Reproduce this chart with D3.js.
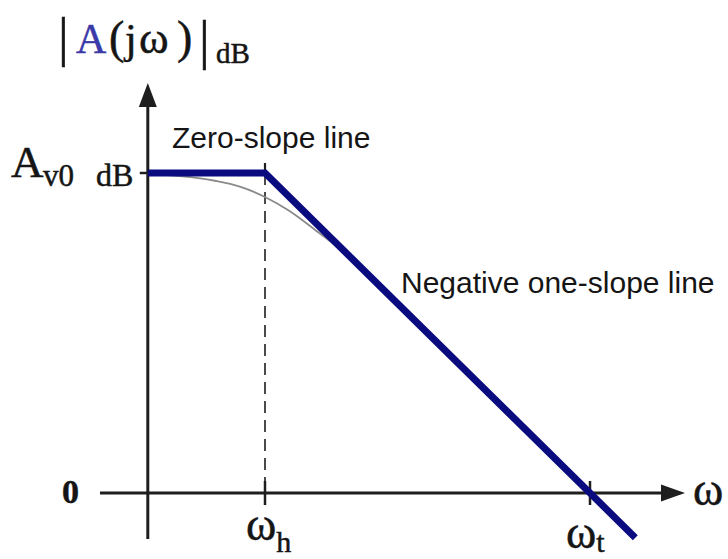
<!DOCTYPE html>
<html><head><meta charset="utf-8">
<script src="https://cdn.jsdelivr.net/npm/d3@7"></script>
<style>
  body { margin: 0; background: #fff; }
  svg { display: block; }
  .serif { font-family: "Liberation Serif", "Times New Roman", serif; fill: #151515; stroke: #151515; stroke-width: 0.5; }
  .sans { font-family: "Liberation Sans", Arial, sans-serif; fill: #151515; }
</style>
</head><body>
<script>
// Bode magnitude of a single-pole amplifier: gain in dB against ω on a log axis.
const midbandGainDb = 40;        // Av0 (dB)
const cornerFreq = 1;            // ωh
const unityFreq = 100;           // ωt
const startFreq = 0.19;          // left edge of the plot (vertical axis)

// Straight-line approximation [ω, dB]
const asymptoteW  = [startFreq, cornerFreq, unityFreq, 190];
const asymptoteDb = [40, 40, 0, -5.6];

// Exact response [ω, dB]
const actualW  = [0.19, 0.3, 0.5, 0.7, 1, 1.4, 2, 2.8, 4, 6];
const actualDb = [39.85, 39.6, 39.0, 38.3, 37.0, 35.3, 33.0, 30.7, 27.7, 24.3];

const freqTicks = [cornerFreq, unityFreq];

const W = 728, H = 559;
const svg = d3.select("body").append("svg").attr("width", W).attr("height", H);

const x = d3.scaleLog().domain([cornerFreq, unityFreq]).range([265, 590]);
const y = d3.scaleLinear().domain([0, midbandGainDb]).range([493, 173]);

const axisX = x(startFreq);
const axisY = y(0);
const ink = "#1e1e1e";

// ---- axes with arrowheads ----
svg.append("line").attr("x1", 100).attr("x2", 670).attr("y1", axisY).attr("y2", axisY)
  .attr("stroke", ink).attr("stroke-width", 3);
svg.append("path")
  .attr("d", `M685,${axisY} L661,${axisY - 8.5} L661,${axisY + 8.5} Z`).attr("fill", ink);

svg.append("line").attr("x1", axisX).attr("x2", axisX).attr("y1", 539).attr("y2", 98)
  .attr("stroke", ink).attr("stroke-width", 3);
svg.append("path")
  .attr("d", `M${axisX},83 L${axisX - 9},107 L${axisX + 9},107 Z`).attr("fill", ink);

// tick for Av0 on the vertical axis
svg.append("line").attr("x1", axisX - 8).attr("x2", axisX).attr("y1", y(midbandGainDb)).attr("y2", y(midbandGainDb))
  .attr("stroke", ink).attr("stroke-width", 2.5);

// ticks on the frequency axis
svg.selectAll("line.ftick").data(freqTicks).join("line").attr("class", "ftick")
  .attr("x1", d => x(d)).attr("x2", d => x(d))
  .attr("y1", axisY - 12).attr("y2", axisY + 12)
  .attr("stroke", ink).attr("stroke-width", 2.5);

// dashed guide at ωh
svg.append("line").attr("x1", x(cornerFreq)).attr("x2", x(cornerFreq))
  .attr("y1", y(midbandGainDb)).attr("y2", axisY - 12)
  .attr("stroke", ink).attr("stroke-width", 1.6).attr("stroke-dasharray", "12,7");
svg.append("line").attr("x1", x(cornerFreq)).attr("x2", x(cornerFreq))
  .attr("y1", y(midbandGainDb) - 10).attr("y2", y(midbandGainDb))
  .attr("stroke", ink).attr("stroke-width", 2.2);

// ---- curves ----
const actual = d3.zip(actualW, actualDb);
const asym = d3.zip(asymptoteW, asymptoteDb);

svg.append("path").datum(actual)
  .attr("d", d3.line().x(d => x(d[0])).y(d => y(d[1])).curve(d3.curveMonotoneX))
  .attr("fill", "none").attr("stroke", "#8a8a8a").attr("stroke-width", 1.8);

svg.append("path").datum(asym)
  .attr("d", d3.line().x(d => x(d[0])).y(d => y(d[1])))
  .attr("fill", "none").attr("stroke", "#0b0b80").attr("stroke-width", 7)
  .attr("stroke-linejoin", "miter");

// ---- labels ----
// vertical axis title |A(jω)|dB
const title = svg.append("text").attr("class", "serif").attr("font-size", 42).attr("y", 53);
title.append("tspan").attr("x", 58).attr("y", 55).attr("font-size", 54).text("|");
title.append("tspan").attr("x", 76).attr("y", 53).attr("fill", "#3a3aa8").attr("stroke", "#3a3aa8").text("A");
title.append("tspan").attr("x", 109).attr("font-size", 46).text("(");
title.append("tspan").attr("x", 125).text("j");
title.append("tspan").attr("x", 139).attr("font-size", 45).text("ω");
title.append("tspan").attr("x", 177).attr("font-size", 46).text(")");
title.append("tspan").attr("x", 199).attr("y", 58).attr("font-size", 54).text("|");
title.append("tspan").attr("x", 216).attr("y", 63).attr("font-size", 29).text("dB");

// Av0 dB
const av = svg.append("text").attr("class", "serif").attr("font-size", 45).attr("y", 177);
av.append("tspan").attr("x", 11).text("A");
av.append("tspan").attr("x", 43).attr("y", 186).attr("font-size", 31).text("v0");
av.append("tspan").attr("x", 96).attr("y", 186).attr("font-size", 32).text("dB");

// zero on the gain axis
svg.append("text").attr("class", "serif").attr("font-size", 34).attr("font-weight", "bold")
  .attr("x", 62).attr("y", axisY + 10).text("0");

// ω at the end of the frequency axis
svg.append("text").attr("class", "serif").attr("font-size", 46)
  .attr("x", 693).attr("y", axisY + 12).text("ω");

// ωh and ωt
const fLabels = [
  { v: cornerFreq, sub: "h", dx: -19, base: 540, dy: 12 },
  { v: unityFreq, sub: "t", dx: -24, base: 548, dy: 4 }
];
fLabels.forEach(l => {
  const t = svg.append("text").attr("class", "serif").attr("font-size", 46).attr("y", l.base);
  t.append("tspan").attr("x", x(l.v) + l.dx).text("ω");
  t.append("tspan").attr("dy", l.dy).attr("font-size", 30).text(l.sub);
});

// annotations
svg.append("text").attr("class", "sans").attr("font-size", 30)
  .attr("x", 172).attr("y", 148).text("Zero-slope line");
svg.append("text").attr("class", "sans").attr("font-size", 30)
  .attr("x", 401).attr("y", 293).text("Negative one-slope line");
</script>
</body></html>
